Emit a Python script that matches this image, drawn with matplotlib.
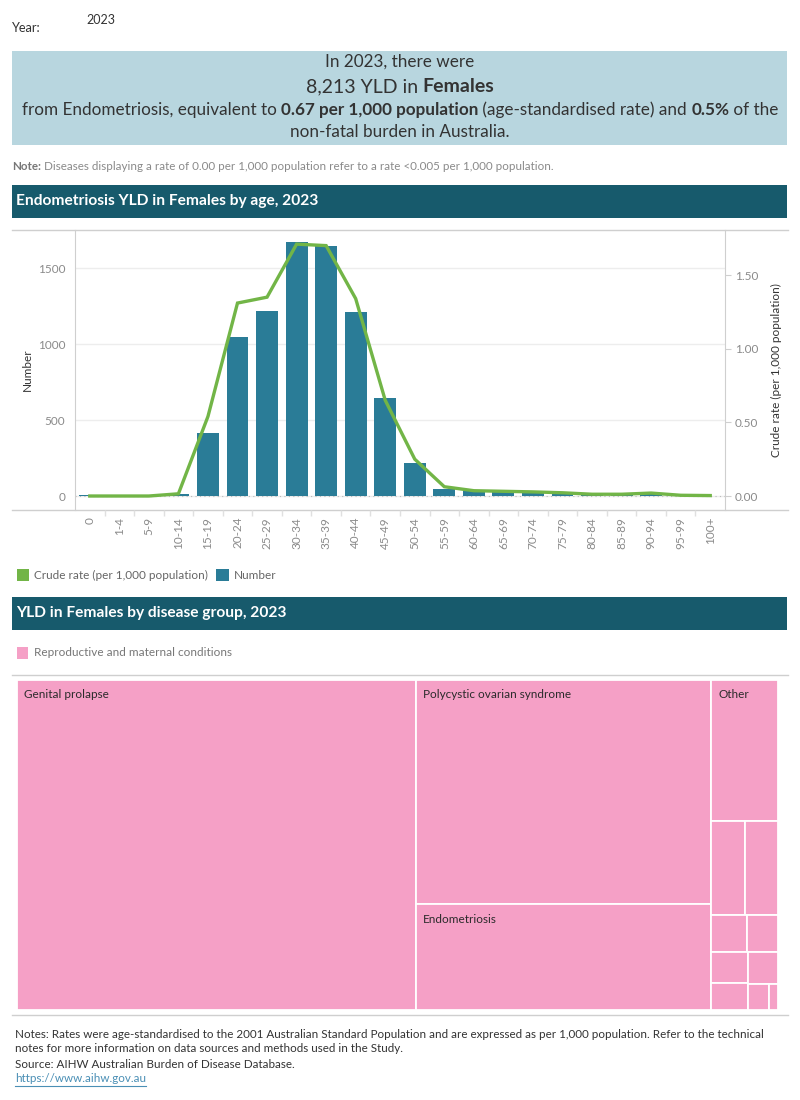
import matplotlib
matplotlib.use("Agg")
import matplotlib.pyplot as plt
from matplotlib.patches import Rectangle
from matplotlib.lines import Line2D

# ---------------- data ----------------
age_groups = ["0", "1-4", "5-9", "10-14", "15-19", "20-24", "25-29", "30-34", "35-39",
              "40-44", "45-49", "50-54", "55-59", "60-64", "65-69", "70-74", "75-79",
              "80-84", "85-89", "90-94", "95-99", "100+"]
yld_number = [5, 1, 1, 15, 416, 1046, 1217, 1671, 1645, 1210, 645, 215, 48, 33, 30,
              25, 20, 10, 8, 15, 5, 2]
crude_rate = [0.0, 0.0, 0.0, 0.015, 0.54, 1.31, 1.35, 1.71, 1.70, 1.34, 0.65, 0.25,
              0.063, 0.036, 0.032, 0.028, 0.022, 0.012, 0.012, 0.02, 0.005, 0.003]

left_ticks = [0, 500, 1000, 1500]
right_ticks = [0.0, 0.5, 1.0, 1.5]

diseases = ["Genital prolapse", "Polycystic ovarian syndrome", "Endometriosis", "Other",
            "", "", "", "", "", "", "", "", ""]
disease_yld = [34500, 17356, 8213, 2459, 831, 813, 349, 296, 295, 257, 252, 142, 63]

# ---------------- styles ----------------
FONT = "Lato"
TEAL = "#2A7C97"
GREEN = "#72B547"
HEADER = "#175A6C"
BANNER = "#B8D6DF"
PINK = "#F5A0C6"
GRID = "#EDEDED"
AXLINE = "#CFCFCF"
TICKC = "#8A8A8A"
DARK = "#333333"

plt.rcParams["font.family"] = [FONT, "DejaVu Sans"]

W, H = 800, 1100
fig = plt.figure(figsize=(8, 11), dpi=100)
bg = fig.add_axes([0, 0, 1, 1], zorder=0)
bg.set_xlim(0, W)
bg.set_ylim(H, 0)
bg.axis("off")
renderer = fig.canvas.get_renderer()


def rich_line(y, segments, size, color=DARK, cx=400):
    texts, widths = [], []
    for s, bold in segments:
        t = bg.text(0, y, s, fontsize=size, fontweight="bold" if bold else "normal",
                    color=color, ha="left", va="center")
        widths.append(t.get_window_extent(renderer=renderer).width)
        texts.append(t)
    x = cx - sum(widths) / 2
    for t, w in zip(texts, widths):
        t.set_x(x)
        x += w


# ---------------- top ----------------
bg.text(12, 28, "Year:", fontsize=9.2, color=DARK, va="center")
bg.text(86, 20, "2023", fontsize=9, color=DARK, va="center")

bg.add_patch(Rectangle((12, 51), 775, 94, color=BANNER, lw=0))
rich_line(62, [("In 2023, there were", False)], 12.3)
rich_line(87, [("8,213 YLD in ", False), ("Females", True)], 14)
rich_line(110, [("from Endometriosis, equivalent to ", False), ("0.67 per 1,000 population", True),
                (" (age-standardised rate) and ", False), ("0.5%", True), (" of the", False)], 12.3)
rich_line(132, [("non-fatal burden in Australia.", False)], 12.3)

t1 = bg.text(12, 166, "Note:", fontsize=8.4, color="#777777", fontweight="bold", va="center")
w1 = t1.get_window_extent(renderer=renderer).width
bg.text(12 + w1 + 3, 166, "Diseases displaying a rate of 0.00 per 1,000 population refer to a rate <0.005 per 1,000 population.",
        fontsize=8.4, color="#8A8A8A", va="center")

# header 1
bg.add_patch(Rectangle((12, 185), 775, 33, color=HEADER, lw=0))
bg.text(16, 201.5, "Endometriosis YLD in Females by age, 2023", fontsize=11.2,
        fontweight="bold", color="white", va="center")

# ---------------- combo chart ----------------
bg.add_line(Line2D([12, 788], [230, 230], color=AXLINE, lw=1))
bg.add_line(Line2D([12, 788], [510, 510], color=AXLINE, lw=1))

ax = fig.add_axes([75 / W, 1 - 510 / H, 650 / W, 280 / H], zorder=2)
ax.patch.set_alpha(0)
x = list(range(len(age_groups)))
ax.bar(x, yld_number, width=0.74, color=TEAL, zorder=2)
ax.axhline(0, color="#BBBBBB", ls=(0, (1, 3)), lw=0.8, zorder=1)
ax.set_xlim(-0.5, len(age_groups) - 0.5)
ax.set_ylim(-92, 1750)
ax.set_yticks(left_ticks)
ax.set_yticklabels([str(v) for v in left_ticks])
ax.grid(axis="y", color=GRID, lw=1, zorder=0)
ax.set_axisbelow(True)
ax.set_xticks(x)
ax.set_xticklabels(age_groups, rotation=90, fontsize=8.5, color=TICKC)
ax.set_xticks([i + 0.5 for i in x[:-1]], minor=True)
ax.tick_params(axis="x", which="major", length=0, pad=5)
ax.tick_params(axis="x", which="minor", length=4, color="#E0E0E0", width=1)
ax.tick_params(axis="y", length=0, labelsize=8.5, labelcolor=TICKC, pad=7)
for s in ["top", "right", "bottom"]:
    ax.spines[s].set_visible(False)
ax.spines["left"].set_color(AXLINE)
ax.set_ylabel("Number", fontsize=8.5, color=DARK, labelpad=3.5)

ax2 = ax.twinx()
ax2.plot(x, crude_rate, color=GREEN, lw=2.4, zorder=3, solid_joinstyle="miter")
ax2.set_ylim(-0.095, 1.806)
ax2.set_yticks(right_ticks)
ax2.set_yticklabels([f"{v:.2f}" for v in right_ticks])
ax2.tick_params(axis="y", length=4, color=AXLINE, labelsize=8.5, labelcolor=TICKC, pad=3)
for s in ["top", "left", "bottom"]:
    ax2.spines[s].set_visible(False)
ax2.spines["right"].set_color(AXLINE)
ax2.set_ylabel("Crude rate (per 1,000 population)", fontsize=8.5, color=DARK, labelpad=9)

# legend
bg.add_patch(Rectangle((16.5, 569), 12, 12, color=GREEN, lw=0))
bg.text(34, 575.5, "Crude rate (per 1,000 population)", fontsize=8.5, color="#666666", va="center")
bg.add_patch(Rectangle((216, 569), 12.5, 12, color=TEAL, lw=0))
bg.text(234, 575.5, "Number", fontsize=8.5, color="#666666", va="center")

# header 2
bg.add_patch(Rectangle((12, 597), 775, 33, color=HEADER, lw=0))
bg.text(16, 613.5, "YLD in Females by disease group, 2023", fontsize=11.2,
        fontweight="bold", color="white", va="center")

bg.add_patch(Rectangle((17, 647), 10.5, 12, color=PINK, lw=0))
bg.text(34, 653, "Reproductive and maternal conditions", fontsize=8.5, color="#777777", va="center")

bg.add_line(Line2D([12, 788], [675, 675], color=AXLINE, lw=1))
bg.add_line(Line2D([12, 788], [1015, 1015], color=AXLINE, lw=1))


# ---------------- treemap ----------------
def worst(row, length):
    thick = sum(row) / length
    return max(max(thick / (a / thick), (a / thick) / thick) for a in row)


def squarify(areas, x0, y0, w, h, tol=2.09):
    rects = []
    i = 0
    while i < len(areas):
        vertical = w >= h
        length = h if vertical else w
        row = [areas[i]]
        j = i + 1
        while j < len(areas) and worst(row + [areas[j]], length) <= tol * worst(row, length):
            row.append(areas[j])
            j += 1
        thick = sum(row) / length
        if vertical:
            yy = y0
            for a in row:
                rects.append((x0, yy, thick, a / thick))
                yy += a / thick
            x0 += thick
            w -= thick
        else:
            xx = x0
            for a in row:
                rects.append((xx, y0, a / thick, thick))
                xx += a / thick
            y0 += thick
            h -= thick
        i = j
    return rects


TX, TY, TW, TH = 17, 680, 761, 330
total = sum(disease_yld)
areas = [v / total * TW * TH for v in disease_yld]
for (rx, ry, rw, rh), name in zip(squarify(areas, TX, TY, TW, TH), diseases):
    bg.add_patch(Rectangle((rx, ry), rw, rh, facecolor=PINK, edgecolor="white", lw=1.3))
    if name:
        t = bg.text(rx + 7, ry + 15, name, fontsize=8.5, color="#2B2B2B", va="center", ha="left")
        if t.get_window_extent(renderer=renderer).width + 10 > rw or rh < 25:
            t.remove()

# ---------------- footer ----------------
FS = 8.4
bg.text(15, 1034, "Notes: Rates were age-standardised to the 2001 Australian Standard Population and are expressed as per 1,000 population. Refer to the technical",
        fontsize=FS, color=DARK, va="center")
bg.text(15, 1049, "notes for more information on data sources and methods used in the Study.",
        fontsize=FS, color=DARK, va="center")
bg.text(15, 1064, "Source: AIHW Australian Burden of Disease Database.", fontsize=FS, color=DARK, va="center")
lt = bg.text(15, 1079, "https://www.aihw.gov.au", fontsize=FS, color="#4A8FB5", va="center")
lw_ = lt.get_window_extent(renderer=renderer).width
bg.add_line(Line2D([15, 15 + lw_], [1086, 1086], color="#4A8FB5", lw=0.8))

fig.savefig("out.png", dpi=100)
